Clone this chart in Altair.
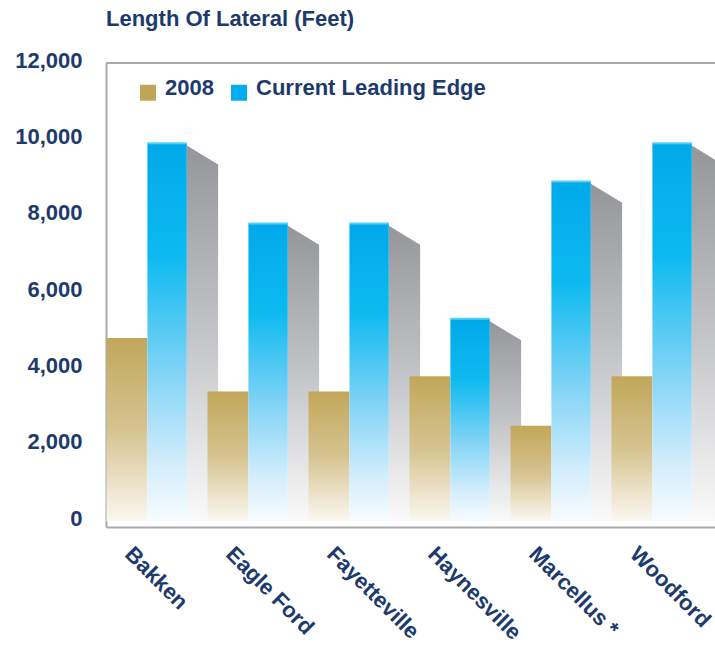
import json
import altair as alt
import pandas as pd

# ---------------- data ----------------
categories = ["Bakken", "Eagle Ford", "Fayetteville", "Haynesville", "Marcellus", "Woodford"]
tick_labels = ["Bakken", "Eagle Ford", "Fayetteville", "Haynesville", "Marcellus *", "Woodford"]
values_2008 = [4800, 3400, 3400, 3800, 2500, 3800]
values_current = [9900, 7800, 7800, 5300, 8900, 9900]
series_names = ["2008", "Current Leading Edge"]
y_ticks = [0, 2000, 4000, 6000, 8000, 10000, 12000]

# ---------------- style ----------------
NAVY = "#1D3A6D"
GOLD = "#C0A556"
BLUE = "#00AEEF"
FRAME = "#A9A9AD"
FONT = "Liberation Sans"
W, H = 609, 464

df = pd.DataFrame({
    "cat": categories,
    "idx": list(range(len(categories))),
    "v2008": values_2008,
    "vcur": values_current,
})

# two corner rows per category for the 3D side face
shadow_df = pd.concat(
    [df.assign(pts=0), df.assign(pts=1)], ignore_index=True
)


def grad(stops):
    return alt.Gradient(
        gradient="linear",
        stops=[alt.GradientStop(color=c, offset=o) for o, c in stops],
        x1=0, x2=0, y1=0, y2=1,
    )


gold_grad = grad([(0, "#C2A75A"), (0.5, "#D6C390"), (1, "#FBF8F1")])
blue_grad = grad([(0, "#00A9EA"), (0.3, "#0DBAF0"), (0.6, "#7FD3F6"), (0.85, "#D3EDFC"), (1, "#F7FCFF")])
gray_grad = grad([(0, "#95969A"), (0.5, "#C3C4C7"), (1, "#FAFAFA")])

xscale = alt.Scale(domain=[0, W / 101.0], nice=False, zero=False)
yscale = alt.Scale(domain=[-150, 12000], nice=False, zero=False)

label_expr = json.dumps(tick_labels) + "[floor(datum.value)]"

x_axis = alt.Axis(
    values=[i + 0.29 for i in range(len(categories))],
    labelExpr=label_expr,
    labelAngle=45,
    labelAlign="left",
    labelBaseline="top",
    labelFont=FONT,
    labelFontSize=22,
    labelFontWeight="bold",
    labelColor=NAVY,
    labelPadding=16,
    labelLimit=0,
    labelOverlap=False,
    ticks=False,
    grid=False,
    domainColor=FRAME,
    domainWidth=2,
    title=None,
)
y_axis = alt.Axis(
    values=y_ticks,
    format=",d",
    labelFont=FONT,
    labelFontSize=22,
    labelFontWeight="bold",
    labelColor=NAVY,
    labelPadding=24,
    labelOffset=-3,
    ticks=False,
    grid=False,
    domainColor=FRAME,
    domainWidth=2,
    title=None,
)

base = alt.Chart(df)

# 3D side faces (shadows) of the current bars
shadow = alt.Chart(shadow_df).transform_calculate(
    sx="datum.idx + 0.80 + datum.pts * 0.31",
    sy="datum.vcur - 60 - datum.pts * 500",
).mark_area(color=gray_grad, orient="vertical").encode(
    x=alt.X("sx:Q", scale=xscale, axis=x_axis),
    y=alt.Y("sy:Q", scale=yscale, axis=y_axis, stack=None),
    y2=alt.datum(0),
    detail="cat:N",
)

bars_2008 = base.transform_calculate(
    x0="datum.idx + 0.005", x1="datum.idx + 0.41"
).mark_bar(color=gold_grad).encode(
    x=alt.X("x0:Q", scale=xscale),
    x2="x1:Q",
    y=alt.Y("v2008:Q", scale=yscale),
    y2=alt.datum(0),
)

bars_cur = base.transform_calculate(
    x0="datum.idx + 0.41", x1="datum.idx + 0.80"
).mark_bar(color=blue_grad).encode(
    x=alt.X("x0:Q", scale=xscale),
    x2="x1:Q",
    y=alt.Y("vcur:Q", scale=yscale),
    y2=alt.datum(0),
)

highlight = base.transform_calculate(
    x0="datum.idx + 0.41", x1="datum.idx + 0.80"
).mark_rule(color="#5ACDF3", strokeWidth=2).encode(
    x=alt.X("x0:Q", scale=xscale),
    x2="x1:Q",
    y=alt.Y("vcur:Q", scale=yscale),
)

# legend carrier (zero-size bars)
legend_df = pd.DataFrame({"series": series_names})
legend_layer = alt.Chart(legend_df).mark_bar().encode(
    x=alt.datum(0),
    x2=alt.datum(0),
    y=alt.datum(0),
    y2=alt.datum(0),
    color=alt.Color(
        "series:N",
        scale=alt.Scale(domain=series_names, range=[GOLD, BLUE]),
        legend=alt.Legend(
            orient="none",
            legendX=31,
            legendY=14,
            direction="horizontal",
            title=None,
            symbolType="M-1,-0.44L1,-0.44L1,1.56L-1,1.56Z",
            symbolSize=256,
            symbolStrokeWidth=0,
            labelFont=FONT,
            labelFontSize=22,
            labelFontWeight="bold",
            labelColor=NAVY,
            labelOffset=6,
            labelLimit=0,
            columnPadding=14,
            padding=0,
        ),
    ),
)

top_line = alt.Chart(legend_df).mark_rule(color=FRAME, strokeWidth=2).encode(
    x=alt.value(0), x2=alt.value(W + 5), y=alt.value(0)
)

chart = alt.layer(
    shadow, bars_2008, bars_cur, highlight, legend_layer, top_line
).properties(
    width=W,
    height=H,
    background="white",
    title=alt.TitleParams(
        "Length Of Lateral (Feet)",
        anchor="start",
        frame="group",
        font=FONT,
        fontSize=22,
        fontWeight="bold",
        color=NAVY,
        offset=18,
    ),
    autosize=alt.AutoSizeParams(type="none"),
    padding={"left": 106, "top": 63, "right": 0, "bottom": 120},
).configure_view(stroke=None)

chart.save("out.html", embed_options={"renderer": "svg", "actions": False})
